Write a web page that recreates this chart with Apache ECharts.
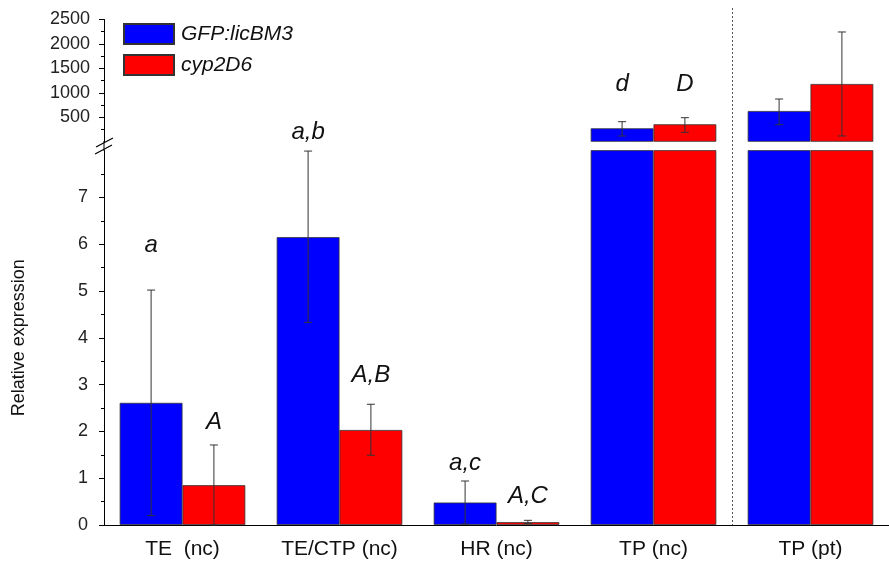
<!DOCTYPE html>
<html>
<head>
<meta charset="utf-8">
<script src="https://cdn.jsdelivr.net/npm/echarts@6/dist/echarts.min.js"></script>
<style>
html, body { margin: 0; padding: 0; background: #fff; }
#chart { width: 889px; height: 570px; }
</style>
</head>
<body>
<div id="chart"></div>
<script>
// data
var categories = ['TE  (nc)', 'TE/CTP (nc)', 'HR (nc)', 'TP (nc)', 'TP (pt)'];
var gfpMean = [2.61, 6.15, 0.48, 275, 629];
var gfpLow  = [0.2, 4.33, 0.02, 118, 349];
var gfpHigh = [5.02, 7.99, 0.94, 410, 874];
var cypMean = [0.85, 2.03, 0.06, 357, 1181];
var cypLow  = [0.0, 1.49, 0.03, 193, 118];
var cypHigh = [1.71, 2.58, 0.10, 492, 2245];
var gfpLetters = ['a', 'a,b', 'a,c', 'd', ''];
var cypLetters = ['A', 'A,B', 'A,C', 'D', ''];
var upperTicks = [500, 1000, 1500, 2000, 2500];
var lowerTicks = [0, 1, 2, 3, 4, 5, 6, 7];

// layout / style
var LOWER_MAX = 8;
var FONT = 'Liberation Sans, Arial, sans-serif';
var BAR_FRAC = 0.4;
var gfpLift = [45, 19, 18, 37, 0];
var cypLift = [23, 29, 24, 33, 0];
var letters = [gfpLetters, cypLetters];
var lifts = [gfpLift, cypLift];

function errData(upper) {
  var out = [];
  [[gfpMean, gfpLow, gfpHigh], [cypMean, cypLow, cypHigh]].forEach(function (s, side) {
    s[0].forEach(function (m, i) {
      if ((m > LOWER_MAX) === upper) out.push([i, s[1][i], s[2][i], side]);
    });
  });
  return out;
}

function renderErr(params, api) {
  var cat = api.value(0), lo = api.value(1), hi = api.value(2), side = api.value(3);
  var w = api.size([1, 0])[0] * BAR_FRAC;
  var x = api.coord([cat, 0])[0] + (side === 0 ? -w / 2 : w / 2);
  var yLo = api.coord([cat, lo])[1];
  var yHi = api.coord([cat, hi])[1];
  var st = { stroke: '#333', lineWidth: 1 };
  var kids = [
    { type: 'line', shape: { x1: x, y1: yLo, x2: x, y2: yHi }, style: st },
    { type: 'line', shape: { x1: x - 4, y1: yHi, x2: x + 4, y2: yHi }, style: st },
    { type: 'line', shape: { x1: x - 4, y1: yLo, x2: x + 4, y2: yLo }, style: st }
  ];
  var t = letters[side][cat];
  if (t) {
    kids.push({
      type: 'text', x: x, y: yHi - lifts[side][cat],
      style: { text: t, fill: '#111', font: 'italic 24px ' + FONT, align: 'center', verticalAlign: 'middle' }
    });
  }
  return { type: 'group', children: kids };
}

function upperOnly(arr) {
  return arr.map(function (v) { return v > LOWER_MAX ? v : '-'; });
}

var chart = echarts.init(document.getElementById('chart'));
var blueStyle = { color: '#0000ff', borderColor: '#333', borderWidth: 0.8 };
var redStyle = { color: '#ff0000', borderColor: '#333', borderWidth: 0.8 };
var axisBlack = { lineStyle: { color: '#000', width: 1 } };

var option = {
  animation: false,
  legend: {
    data: ['GFP:licBM3', 'cyp2D6'],
    orient: 'vertical',
    left: 123, top: 23, padding: 0,
    icon: 'rect',
    itemWidth: 50, itemHeight: 20, itemGap: 9,
    textStyle: { fontFamily: FONT, fontStyle: 'italic', fontSize: 21, color: '#111', padding: [0, 0, 0, 2] }
  },
  grid: [
    { left: 104, top: 19.5, width: 788.5, height: 122.25 },
    { left: 104, top: 150.6, width: 788.5, height: 374.4 }
  ],
  xAxis: [
    { gridIndex: 0, type: 'category', data: categories, show: false },
    { gridIndex: 1, type: 'category', data: categories, position: 'bottom',
      axisLine: axisBlack, axisTick: { length: 5, lineStyle: { color: '#000' } },
      axisLabel: { show: false } },
    { gridIndex: 1, type: 'category', data: categories, position: 'bottom',
      axisLine: { show: false },
      axisTick: { alignWithLabel: true, length: 6, lineStyle: { color: '#000' } },
      axisLabel: { margin: 14, fontFamily: FONT, fontSize: 21, color: '#111' } }
  ],
  yAxis: [
    { gridIndex: 0, type: 'value', min: 0, max: 2500, interval: 500,
      axisLine: { show: true, lineStyle: { color: '#000' } },
      axisTick: { show: true, length: 5, customValues: upperTicks, lineStyle: { color: '#000' } },
      minorTick: { show: true, splitNumber: 2, length: 3, lineStyle: { color: '#000' } },
      splitLine: { show: false },
      axisLabel: { customValues: upperTicks, margin: 14, fontFamily: FONT, fontSize: 18, color: '#222',
        formatter: function (v) { return String(v); } } },
    { gridIndex: 1, type: 'value', min: 0, max: LOWER_MAX, interval: 1,
      name: 'Relative expression', nameLocation: 'middle', nameGap: 76,
      nameTextStyle: { fontFamily: FONT, fontSize: 18, color: '#111' },
      axisLine: { show: true, lineStyle: { color: '#000' } },
      axisTick: { show: true, length: 5, customValues: lowerTicks, lineStyle: { color: '#000' } },
      minorTick: { show: true, splitNumber: 2, length: 3, lineStyle: { color: '#000' } },
      splitLine: { show: false },
      axisLabel: { customValues: lowerTicks, margin: 16, fontFamily: FONT, fontSize: 18, color: '#222' } }
  ],
  series: [
    { name: 'GFP:licBM3', type: 'bar', xAxisIndex: 1, yAxisIndex: 1, data: gfpMean,
      barGap: '0%', barCategoryGap: '20%', itemStyle: blueStyle, clip: true },
    { name: 'cyp2D6', type: 'bar', xAxisIndex: 1, yAxisIndex: 1, data: cypMean,
      barGap: '0%', barCategoryGap: '20%', itemStyle: redStyle, clip: true },
    { name: 'GFP:licBM3', type: 'bar', xAxisIndex: 0, yAxisIndex: 0, data: upperOnly(gfpMean),
      barGap: '0%', barCategoryGap: '20%', itemStyle: blueStyle },
    { name: 'cyp2D6', type: 'bar', xAxisIndex: 0, yAxisIndex: 0, data: upperOnly(cypMean),
      barGap: '0%', barCategoryGap: '20%', itemStyle: redStyle },
    { type: 'custom', xAxisIndex: 1, yAxisIndex: 1, data: errData(false),
      renderItem: renderErr, z: 5, clip: false },
    { type: 'custom', xAxisIndex: 0, yAxisIndex: 0, data: errData(true),
      renderItem: renderErr, z: 5, clip: false }
  ],
  graphic: [
    { type: 'line', shape: { x1: 96, y1: 147, x2: 113, y2: 138 }, style: { stroke: '#000', lineWidth: 1.2 } },
    { type: 'line', shape: { x1: 95, y1: 154, x2: 112, y2: 145 }, style: { stroke: '#000', lineWidth: 1.2 } },
    { type: 'line', shape: { x1: 104, y1: 141, x2: 104, y2: 151 }, style: { stroke: '#000', lineWidth: 1 } }
  ]
};
chart.setOption(option);

// dotted separator between the last two groups
var xa = chart.convertToPixel({ xAxisIndex: 1 }, categories[3]);
var xb = chart.convertToPixel({ xAxisIndex: 1 }, categories[4]);
var y0 = chart.convertToPixel({ yAxisIndex: 1 }, 0);
var sepX = Math.round((xa + xb) / 2) + 0.5;
chart.setOption({
  graphic: option.graphic.concat([
    { type: 'line', z: 10, shape: { x1: sepX, y1: 8, x2: sepX, y2: y0 },
      style: { stroke: '#555', lineWidth: 1, lineDash: [2, 2] } }
  ])
});
</script>
</body>
</html>
